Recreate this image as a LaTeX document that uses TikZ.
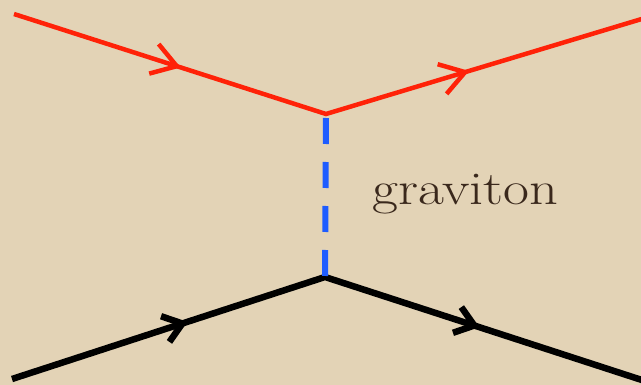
\documentclass[tikz,border=0pt]{standalone}
\usetikzlibrary{arrows.meta,decorations.markings}
\definecolor{bg}{RGB}{227,211,182}
\definecolor{fred}{RGB}{255,34,8}
\definecolor{fblue}{RGB}{30,92,255}
\definecolor{ink}{RGB}{58,40,28}
\tikzset{
  fermionred/.style={draw=fred,line width=4.5pt,line join=miter},
  fermionblack/.style={draw=black,line width=6.5pt,line join=miter},
  propagator/.style={draw=fblue,line width=6pt,dash pattern=on 26pt off 18pt},
  label/.style={text=ink,font=\fontsize{47}{50}\selectfont,inner sep=0pt,anchor=base west}
}
\begin{document}
\begin{tikzpicture}[x=1pt,y=-1pt]
\fill[bg] (0,0) rectangle (641,385);
\useasboundingbox (0,0) rectangle (641,385);
\coordinate (rin) at (14,14);
\coordinate (rv) at (326,114);
\coordinate (rout) at (645,18);
\coordinate (bin) at (12,379);
\coordinate (bv) at (325,277);
\coordinate (bout) at (648,382);
\draw[fermionred,postaction={decorate},decoration={markings,
   mark=at position 0.265 with {\arrow[fred,line width=4.5pt]{Straight Barb[length=24pt,width=31pt,sharp]}},
   mark=at position 0.722 with {\arrow[fred,line width=4.5pt]{Straight Barb[length=24pt,width=31pt,sharp]}}}]
  (rin) -- (rv) -- (rout);
\draw[fermionblack,postaction={decorate},decoration={markings,
   mark=at position 0.276 with {\arrow[black,line width=6.5pt]{Straight Barb[length=18pt,width=27pt,sharp]}},
   mark=at position 0.735 with {\arrow[black,line width=6.5pt]{Straight Barb[length=18pt,width=27pt,sharp]}}}]
  (bin) -- (bv) -- (bout);
\draw[propagator,shorten <=4pt] (rv) -- (bv);
\node[label] (g) at (372,205) {\scalebox{1.2}[1]{graviton}};
\end{tikzpicture}
\end{document}
